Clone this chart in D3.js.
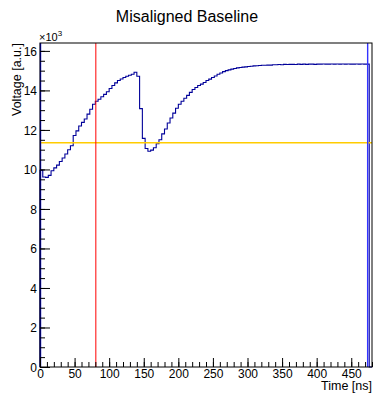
<!DOCTYPE html>
<html>
<head>
<meta charset="utf-8">
<script src="https://cdn.jsdelivr.net/npm/d3@7"></script>
<style>
  body { margin: 0; background: #fff; }
  svg { display: block; font-family: "Liberation Sans", Arial, sans-serif; }
  .axis path { display: none; }
  .axis line { stroke: #000; }
  .axis text { font-size: 12px; fill: #000; }
</style>
</head>
<body>
<script>
// 4 ns bins, values in a.u. (x1000)
var binWidth = 4;
var voltage = [
  9.96, 9.62, 9.60, 9.70, 9.93, 10.08, 10.22, 10.40, 10.58, 10.78,
  11.00, 11.20, 11.72, 11.95, 12.20, 12.38, 12.55, 12.80, 13.05, 13.30,
  13.45, 13.55, 13.68, 13.80, 13.93, 14.10, 14.25, 14.38, 14.50, 14.58,
  14.65, 14.72, 14.77, 14.82, 14.92, 14.72, 13.08, 11.57, 11.06, 10.92,
  10.98, 11.10, 11.30, 11.50, 11.80, 12.05, 12.35, 12.60, 12.85, 13.10,
  13.30, 13.45, 13.60, 13.75, 13.90, 14.05, 14.15, 14.25, 14.32, 14.40,
  14.50, 14.57, 14.65, 14.73, 14.82, 14.88, 14.95, 15.00, 15.04, 15.08,
  15.11, 15.14, 15.16, 15.18, 15.19, 15.21, 15.22, 15.24, 15.25, 15.26,
  15.27, 15.27, 15.28, 15.28, 15.30, 15.30, 15.31, 15.30, 15.32, 15.31,
  15.32, 15.32, 15.31, 15.33, 15.32, 15.33, 15.32, 15.33, 15.33, 15.32,
  15.33, 15.33, 15.34, 15.33, 15.33, 15.34, 15.33, 15.34, 15.33, 15.34,
  15.33, 15.34, 15.33, 15.33, 15.34, 15.33, 15.34, 15.33, 15.33, 0
];
var baseline = 11.35;      // yellow line
var triggerTime = 80;      // red line
var windowEdges = [0, 473]; // blue lines
var xTicks = [0, 50, 100, 150, 200, 250, 300, 350, 400, 450];
var yTicks = [0, 2, 4, 6, 8, 10, 12, 14, 16];

width = 374;
height = 394;
var m = { left: 40, right: 2, top: 43, bottom: 27 };

x = d3.scaleLinear().domain([0, 480]).range([m.left, width - m.right]);
y = d3.scaleLinear().domain([0, 16.4]).range([height - m.bottom, m.top]);

const svg = d3.select("body").append("svg")
  .attr("width", width).attr("height", height);

// histogram as steps
var pts = [[0, 0]];
voltage.forEach(function (v, i) {
  pts.push([i * binWidth, v]);
  pts.push([(i + 1) * binWidth, v]);
});
pts.push([voltage.length * binWidth, 0]);
var line = d3.line().x(d => x(d[0])).y(d => y(d[1]));

svg.append("path")
  .attr("d", line(pts))
  .attr("fill", "none")
  .attr("stroke", "#000099")
  .attr("stroke-width", 1.1);

// markers
svg.append("line")
  .attr("x1", x(0)).attr("x2", x(480))
  .attr("y1", y(baseline)).attr("y2", y(baseline))
  .attr("stroke", "#ffcc00").attr("stroke-width", 1.3);
svg.append("line")
  .attr("x1", x(triggerTime) + 0.5).attr("x2", x(triggerTime) + 0.5)
  .attr("y1", y(0)).attr("y2", y(16.4))
  .attr("stroke", "#ff0000").attr("stroke-width", 1);
svg.selectAll(".win").data(windowEdges).enter().append("line")
  .attr("x1", d => x(d) + 0.5).attr("x2", d => x(d) + 0.5)
  .attr("y1", y(0)).attr("y2", y(16.4))
  .attr("stroke", (d, i) => i ? "#3333ff" : "#0000cc")
  .attr("stroke-width", 1.4);

// axes, ticks inside the frame
const gX = svg.append("g").attr("class", "axis")
  .attr("transform", `translate(0,${height - m.bottom})`)
  .call(d3.axisBottom(x).tickValues(xTicks).tickSize(-9).tickPadding(2).tickFormat(d3.format("d")));
svg.append("g").attr("class", "axis")
  .attr("transform", `translate(0,${height - m.bottom})`)
  .call(d3.axisBottom(x).tickValues(d3.range(0, 481, 10)).tickSize(-5).tickFormat(""));
gX.selectAll("text").attr("dy", "0.72em");

const gY = svg.append("g").attr("class", "axis")
  .attr("transform", `translate(${m.left},0)`)
  .call(d3.axisLeft(y).tickValues(yTicks).tickSize(-10).tickPadding(3).tickFormat(d3.format("d")));
svg.append("g").attr("class", "axis")
  .attr("transform", `translate(${m.left},0)`)
  .call(d3.axisLeft(y).tickValues(d3.range(0, 16.4, 0.5)).tickSize(-5).tickFormat(""));
gY.selectAll("text").attr("dy", "0.35em");

// frame
svg.append("rect")
  .attr("x", x(0)).attr("y", y(16.4))
  .attr("width", x(480) - x(0)).attr("height", y(0) - y(16.4))
  .attr("fill", "none").attr("stroke", "#000").attr("stroke-width", 1);

// texts
svg.append("text").attr("x", width / 2).attr("y", 22)
  .attr("text-anchor", "middle").attr("font-size", 16).text("Misaligned Baseline");
svg.append("text").attr("x", x(480)).attr("y", 390)
  .attr("text-anchor", "end").attr("font-size", 12.5).text("Time [ns]");
svg.append("text")
  .attr("transform", `translate(21,${m.top}) rotate(-90)`)
  .attr("text-anchor", "end").attr("font-size", 12.5).text("Voltage [a.u.]");
var exp = svg.append("text").attr("x", 39).attr("y", 41).attr("font-size", 11);
exp.append("tspan").text("\u00d710");
exp.append("tspan").attr("dy", -5).attr("font-size", 8).text("3");
</script>
</body>
</html>
